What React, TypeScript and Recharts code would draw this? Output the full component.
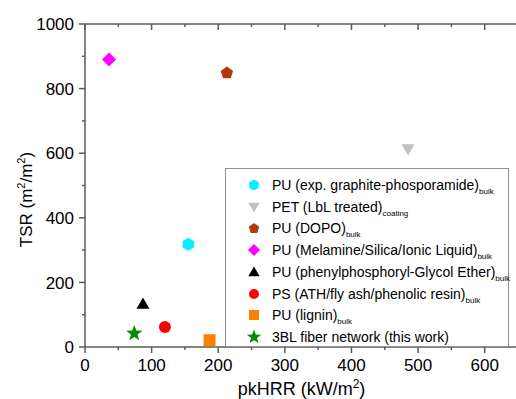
import React from "react";
import { ScatterChart, Scatter, XAxis, YAxis, Legend } from "recharts";

const seriesNames = [
  "PU (exp. graphite-phosporamide)",
  "PET (LbL treated)",
  "PU (DOPO)",
  "PU (Melamine/Silica/Ionic Liquid)",
  "PU (phenylphosphoryl-Glycol Ether)",
  "PS (ATH/fly ash/phenolic resin)",
  "PU (lignin)",
  "3BL fiber network (this work)",
];
const seriesSubs = ["bulk", "coating", "bulk", "bulk", "bulk", "bulk", "bulk", ""];
const pkHRR = [155, 485, 213, 36, 87, 120, 187, 74];
const tsr = [318, 613, 850, 890, 133, 62, 21, 42];

const xTicks = [0, 50, 100, 150, 200, 250, 300, 350, 400, 450, 500, 550, 600, 650];
const yTicks = [0, 100, 200, 300, 400, 500, 600, 700, 800, 900, 1000];
const X_MAX = 650;
const Y_MAX = 1000;

const markerKinds = ["hexagon", "triangleDown", "pentagon", "diamond", "triangle", "circle", "square", "star"];
const markerColors = ["#00F0FF", "#C0C0C0", "#B5360C", "#FF00FF", "#000000", "#FF0000", "#FF8000", "#0A8A0A"];

const FONT = "'Liberation Sans', Arial, sans-serif";
const AXIS = "#5a5a5a";
const AXIS_W = 1.5;

// chart layout
const CHART_W = 530;
const CHART_H = 399;
const MARGIN = { top: 24, right: 12, bottom: 0, left: 0 };
const Y_AXIS_W = 85;
const X_AXIS_H = 52;
const PLOT_X = MARGIN.left + Y_AXIS_W;
const PLOT_Y = MARGIN.top;
const PLOT_W = CHART_W - MARGIN.left - MARGIN.right - Y_AXIS_W;

function poly(cx: number, cy: number, r: number, n: number, rot: number) {
  const pts: string[] = [];
  for (let k = 0; k < n; k++) {
    const a = ((rot + (360 / n) * k) * Math.PI) / 180;
    pts.push(`${cx + r * Math.cos(a)},${cy + r * Math.sin(a)}`);
  }
  return pts.join(" ");
}

function starPts(cx: number, cy: number, r: number) {
  const pts: string[] = [];
  for (let k = 0; k < 10; k++) {
    const rr = k % 2 === 0 ? r : r * 0.42;
    const a = ((-90 + 36 * k) * Math.PI) / 180;
    pts.push(`${cx + rr * Math.cos(a)},${cy + rr * Math.sin(a)}`);
  }
  return pts.join(" ");
}

function Marker({ kind, cx, cy, fill, r }: { kind: string; cx: number; cy: number; fill: string; r: number }) {
  switch (kind) {
    case "hexagon":
      return <polygon points={poly(cx, cy, r, 6, -90)} fill={fill} />;
    case "triangleDown":
      return <polygon points={poly(cx, cy - 1, r + 1, 3, 90)} fill={fill} />;
    case "pentagon":
      return <polygon points={poly(cx, cy + 0.5, r, 5, -90)} fill={fill} />;
    case "diamond":
      return <polygon points={poly(cx, cy, r + 0.5, 4, -90)} fill={fill} />;
    case "triangle":
      return <polygon points={poly(cx, cy + 1, r + 1, 3, -90)} fill={fill} />;
    case "circle":
      return <circle cx={cx} cy={cy} r={r - 0.5} fill={fill} />;
    case "square":
      return <rect x={cx - r + 0.5} y={cy - r + 0.5} width={2 * r - 1} height={2 * r - 1} fill={fill} />;
    default:
      return <polygon points={starPts(cx, cy, r + 2)} fill={fill} />;
  }
}

// bottom axis: major ticks every 100 with labels, minor at the 50s
const BottomTick = (props: any) => {
  const { x, y, payload } = props;
  const major = payload.value % 100 === 0;
  return (
    <g>
      <line x1={x} x2={x} y1={y} y2={y + (major ? 6 : 3)} stroke={AXIS} strokeWidth={AXIS_W} />
      {major && payload.value < X_MAX && (
        <text x={x} y={y + 24} textAnchor="middle" fontSize={17} fontFamily={FONT} fill="#000">
          {payload.value}
        </text>
      )}
    </g>
  );
};

const LeftTick = (props: any) => {
  const { x, y, payload } = props;
  const major = payload.value % 200 === 0;
  return (
    <g>
      <line x1={x} x2={x - (major ? 6 : 3)} y1={y} y2={y} stroke={AXIS} strokeWidth={AXIS_W} />
      {major && (
        <text x={x - 11} y={y} dy="0.36em" textAnchor="end" fontSize={17} fontFamily={FONT} fill="#000">
          {payload.value}
        </text>
      )}
    </g>
  );
};

// top frame of the plot box with inward ticks, same spacing as the bottom axis
const TopFrame = () => (
  <svg
    width={CHART_W}
    height={40}
    style={{ position: "absolute", left: 0, top: 0, zIndex: 5, pointerEvents: "none", overflow: "visible" }}
  >
    <line x1={PLOT_X - 0.75} x2={PLOT_X + PLOT_W} y1={PLOT_Y} y2={PLOT_Y} stroke={AXIS} strokeWidth={AXIS_W} />
    {xTicks.map((t) => {
      const x = PLOT_X + (PLOT_W * t) / X_MAX;
      return (
        <line key={t} x1={x} x2={x} y1={PLOT_Y} y2={PLOT_Y + (t % 100 === 0 ? 6 : 3)} stroke={AXIS} strokeWidth={AXIS_W} />
      );
    })}
  </svg>
);

const XTitle = (props: any) => {
  const { viewBox } = props;
  const cx = viewBox.x + viewBox.width / 2;
  return (
    <text x={cx} y={395} textAnchor="middle" fontSize={18} fontFamily={FONT} fill="#000">
      pkHRR (kW/m
      <tspan dy={-7} fontSize={12}>2</tspan>
      <tspan dy={7}>)</tspan>
    </text>
  );
};

const YTitle = (props: any) => {
  const { viewBox } = props;
  const cy = viewBox.y + viewBox.height / 2 + 14;
  return (
    <text
      x={32}
      y={cy}
      transform={`rotate(-90 32 ${cy})`}
      textAnchor="middle"
      fontSize={17}
      fontFamily={FONT}
      fill="#000"
    >
      TSR (m
      <tspan dy={-7} fontSize={11}>2</tspan>
      <tspan dy={7}>/m</tspan>
      <tspan dy={-7} fontSize={11}>2</tspan>
      <tspan dy={7}>)</tspan>
    </text>
  );
};

const LegendBox = () => (
  <div
    style={{
      width: 284,
      height: 179,
      boxSizing: "border-box",
      border: "1px solid #8f8f8f",
      background: "#fff",
      position: "relative",
      fontFamily: FONT,
      fontSize: 14,
      color: "#000",
    }}
  >
    {seriesNames.map((name, i) => (
      <div
        key={name}
        style={{
          position: "absolute",
          left: 0,
          top: 16 + i * 21.7 - 10,
          height: 20,
          display: "flex",
          alignItems: "center",
          whiteSpace: "nowrap",
        }}
      >
        <svg width={46} height={20} style={{ display: "block" }}>
          <Marker kind={markerKinds[i]} cx={28} cy={10} fill={markerColors[i]} r={5.5} />
        </svg>
        <span>
          {name}
          {seriesSubs[i] && (
            <sub style={{ fontSize: 8, lineHeight: 0, verticalAlign: -4, color: "#000" }}>{seriesSubs[i]}</sub>
          )}
        </span>
      </div>
    ))}
  </div>
);

export default function App() {
  return (
    <div style={{ position: "absolute", left: 0, top: 0, width: 516, height: 399, overflow: "hidden", background: "#fff" }}>
      <ScatterChart width={CHART_W} height={CHART_H} margin={MARGIN}>
        <XAxis
          type="number"
          dataKey="x"
          height={X_AXIS_H}
          domain={[0, X_MAX]}
          ticks={xTicks}
          interval={0}
          tickSize={0}
          tickMargin={0}
          tickLine={false}
          tick={<BottomTick />}
          axisLine={{ stroke: AXIS, strokeWidth: AXIS_W }}
          label={<XTitle />}
        />
        <YAxis
          type="number"
          dataKey="y"
          width={Y_AXIS_W}
          domain={[0, Y_MAX]}
          ticks={yTicks}
          interval={0}
          tickSize={0}
          tickMargin={0}
          tickLine={false}
          tick={<LeftTick />}
          axisLine={{ stroke: AXIS, strokeWidth: AXIS_W }}
          label={<YTitle />}
        />
        <Legend
          layout="vertical"
          align="center"
          verticalAlign="middle"
          content={<LegendBox />}
          wrapperStyle={{ position: "absolute", left: 225, top: 168, width: 284, height: 179 }}
        />
        {seriesNames.map((name, i) => (
          <Scatter
            key={name}
            name={name}
            data={[{ x: pkHRR[i], y: tsr[i] }]}
            isAnimationActive={false}
            shape={(p: any) => <Marker kind={markerKinds[i]} cx={p.cx} cy={p.cy} fill={markerColors[i]} r={6.5} />}
          />
        ))}
      </ScatterChart>
      <TopFrame />
    </div>
  );
}
